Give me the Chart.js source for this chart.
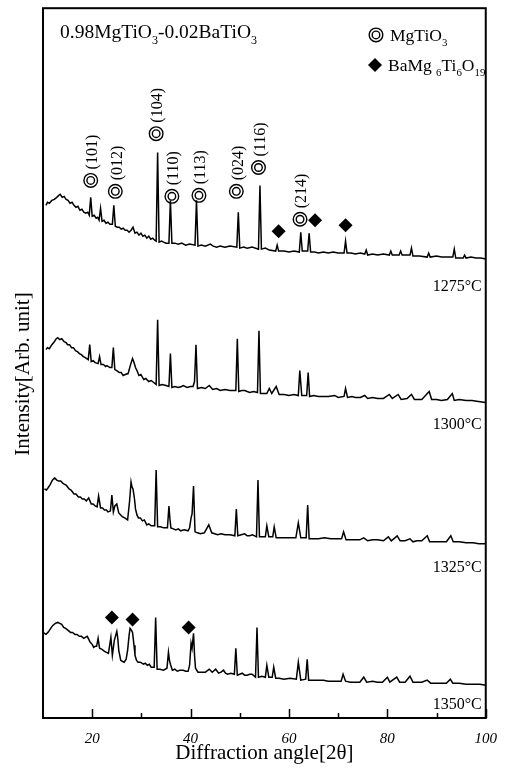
<!DOCTYPE html>
<html><head><meta charset="utf-8">
<script src="https://cdn.jsdelivr.net/npm/chart.js@4/dist/chart.umd.min.js"></script>
<style>html,body{margin:0;padding:0;background:#fff;} canvas{display:block;}</style>
</head><body>
<canvas id="c" width="509" height="770"></canvas>
<script>
// ---- DATA (2θ, intensity in arbitrary units) ----
const trace1275 = [[10.6,60],[10.9,63],[11.3,62],[11.8,65],[12.3,66],[12.8,68],[13.2,70],[13.5,71],[13.9,68],[14.3,69],[14.7,66],[15.1,65],[15.5,62],[15.9,63],[16.3,60],[16.7,58],[17.1,59],[17.5,55],[17.9,56],[18.3,53],[18.7,52],[19.1,53],[19.4,50],[19.7,68],[20.0,49],[20.4,50],[20.8,47],[21.1,48],[21.4,45],[21.7,57],[22.0,44],[22.4,45],[22.8,42],[23.2,43],[23.6,41],[24.1,41],[24.4,60],[24.7,39],[25.1,38],[25.5,38],[25.9,36],[26.3,37],[26.7,35],[27.1,35],[27.5,33],[27.9,35],[28.3,38],[28.7,32],[29.1,33],[29.5,30],[29.9,32],[30.3,29],[30.7,30],[31.1,27],[31.5,29],[31.9,26],[32.3,27],[32.7,25],[33.0,24],[33.3,113],[33.6,23],[34.1,24],[34.5,23],[35.0,22],[35.6,22],[35.9,65],[36.2,22],[36.8,22],[37.5,21],[38.2,22],[39.0,20],[39.8,21],[40.9,20],[41.2,65],[41.5,19],[42.2,20],[43.0,19],[44.0,21],[44.6,19],[45.3,18],[46.0,19],[47.0,18],[48.0,19],[49.4,18],[49.7,53],[50.0,17],[50.8,18],[51.5,17],[52.5,18],[53.8,16],[54.1,80],[54.4,16],[55.2,17],[56.0,15],[57.3,14],[57.6,20],[57.9,14],[59.0,14],[60.0,13],[61.0,14],[62.1,13],[62.4,33],[62.7,14],[63.8,14],[64.1,32],[64.4,13],[65.2,13],[66.0,12],[67.0,13],[68.0,12],[69.0,13],[70.0,12],[71.2,12],[71.5,24],[71.8,12],[72.6,12],[73.5,11],[74.5,12],[75.4,11],[75.7,15],[76.0,10],[77.0,11],[78.0,10],[79.2,11],[80.4,10],[80.7,14],[81.0,10],[82.4,10],[82.7,14],[83.0,10],[84.6,10],[84.9,17],[85.2,9],[86.5,9],[88.1,8],[88.4,12],[88.7,8],[90.0,9],[91.0,8],[92.2,8],[93.3,8],[93.6,16],[93.9,7],[95.4,7],[95.7,10],[96.0,7],[97.0,8],[98.0,7],[99.0,7],[100,6]];
const trace1300 = [[10.6,55],[10.9,57],[11.3,56],[11.8,60],[12.3,63],[12.7,66],[13.0,67],[13.4,65],[13.8,66],[14.3,63],[14.7,62],[15.0,60],[15.4,60],[15.8,57],[16.2,57],[16.6,54],[17.0,53],[17.4,51],[17.8,50],[18.2,48],[18.6,47],[19.2,45],[19.5,60],[19.8,43],[20.2,44],[20.6,42],[21.2,41],[21.5,48],[21.8,40],[22.3,40],[22.7,38],[23.0,39],[23.6,37],[24.0,37],[24.3,57],[24.6,35],[25.0,34],[25.5,32],[25.9,32],[26.3,29],[26.7,30],[27.3,31],[27.8,40],[28.2,46],[28.5,42],[28.8,37],[29.1,34],[29.5,29],[29.9,30],[30.5,25],[30.9,26],[31.5,23],[32.0,24],[32.5,22],[33.0,20],[33.3,85],[33.6,19],[34.2,20],[35.0,19],[35.6,18],[35.9,51],[36.2,17],[36.8,18],[37.5,17],[38.2,18],[38.5,19],[39.3,17],[40.0,18],[40.5,18],[40.8,23],[41.1,60],[41.4,16],[42.2,17],[43.0,16],[43.8,19],[44.5,15],[45.3,16],[46.0,14],[47.0,15],[48.0,14],[49.2,14],[49.5,66],[49.8,13],[50.4,14],[51.0,14],[52.0,12],[52.8,13],[53.6,12],[53.9,74],[54.2,11],[55.5,11],[56.0,16],[56.5,11],[57.4,18],[58.0,10],[59.0,10],[60.0,9],[61.0,10],[61.9,9],[62.2,34],[62.6,9],[63.6,9],[63.9,32],[64.2,8],[65.0,9],[66.0,8],[67.0,8],[68.0,8],[69.3,9],[70.0,7],[71.2,8],[71.5,16],[71.9,7],[72.8,8],[73.5,7],[74.5,7],[75.4,9],[76.0,6],[77.0,7],[78.0,6],[79.2,6],[80.4,10],[81.0,6],[82.2,10],[82.8,5],[84.0,6],[84.9,10],[85.5,5],[87.0,5],[88.5,13],[89.0,5],[90.0,5],[91.0,4],[92.2,5],[93.2,11],[93.6,4],[94.6,5],[96.0,4],[97.2,4],[98.5,3],[100,2]];
const trace1325 = [[10.3,60],[10.7,59],[11.0,61],[11.4,64],[11.8,68],[12.1,70],[12.4,71],[12.8,69],[13.2,68],[13.6,68],[14.0,66],[14.3,65],[14.7,64],[15.0,62],[15.3,60],[15.7,59],[16.0,57],[16.3,55],[16.7,55],[17.2,52],[17.6,52],[18.0,50],[18.4,50],[18.8,48],[19.3,51],[19.8,45],[20.2,45],[20.6,43],[21.0,42],[21.3,53],[21.7,41],[22.1,41],[22.5,39],[22.9,39],[23.2,37],[23.7,38],[24.0,54],[24.3,37],[24.6,43],[25.0,45],[25.4,36],[25.8,34],[26.2,32],[26.6,31],[27.2,29],[27.6,48],[27.9,67],[28.1,62],[28.3,60],[28.6,50],[28.8,40],[29.1,34],[29.4,31],[29.8,31],[30.2,28],[30.6,29],[31.1,24],[31.5,25],[32.0,23],[32.7,23],[33.0,79],[33.3,22],[33.9,22],[34.5,21],[35.3,21],[35.6,43],[35.8,30],[36.0,21],[36.5,20],[37.0,19],[37.5,20],[38.0,18],[38.7,19],[39.5,18],[39.8,21],[40.1,31],[40.3,35],[40.6,63],[40.9,17],[41.4,16],[42.0,15],[42.8,16],[43.7,24],[44.3,16],[44.9,15],[45.5,14],[46.2,15],[47.0,14],[48.0,14],[49.0,13],[49.3,40],[49.6,13],[50.3,14],[51.0,15],[51.5,13],[52.0,13],[52.6,14],[53.4,12],[53.7,69],[54.0,12],[54.6,12],[55.2,12],[55.5,23],[55.9,12],[56.7,12],[57.0,22],[57.4,11],[58.2,11],[59.0,11],[60.2,11],[61.4,11],[61.9,26],[62.4,11],[63.5,11],[63.8,44],[64.1,10],[65.0,10],[66.0,10],[67.2,11],[68.5,10],[69.6,10],[70.7,10],[71.1,17],[71.6,9],[72.5,9],[73.5,9],[74.4,9],[75.2,11],[76.0,8],[77.0,9],[78.0,9],[79.2,8],[80.2,12],[80.8,8],[82.0,13],[82.6,8],[83.6,8],[84.6,10],[85.2,7],[86.0,8],[87.0,8],[88.1,13],[88.6,7],[90.0,7],[91.0,7],[92.0,7],[92.9,13],[93.4,7],[94.6,7],[96.0,6],[97.4,6],[98.6,5],[100,5]];
const trace1350 = [[10.0,58],[10.3,57],[10.6,56],[11.0,58],[11.3,60],[11.7,63],[12.0,65],[12.5,67],[13.0,68],[13.4,67],[13.8,66],[14.2,63],[14.6,62],[15.1,60],[15.6,58],[16.0,58],[16.5,56],[16.9,56],[17.4,54],[17.8,54],[18.3,52],[18.6,53],[19.0,54],[19.3,51],[19.6,48],[20.0,46],[20.3,43],[20.6,44],[20.9,44],[21.2,52],[21.5,42],[22.0,41],[22.5,39],[22.9,38],[23.3,37],[23.8,53],[24.1,35],[24.5,50],[25.0,59],[25.2,52],[25.4,40],[25.8,30],[26.1,29],[26.5,28],[26.9,31],[27.2,40],[27.5,55],[27.7,62],[28.0,60],[28.2,58],[28.5,45],[28.7,35],[29.0,30],[29.3,28],[29.8,28],[30.4,26],[30.8,27],[31.2,25],[31.6,26],[32.0,23],[32.6,23],[32.9,73],[33.2,21],[33.8,21],[34.5,20],[35.2,22],[35.5,38],[35.7,30],[35.9,26],[36.3,20],[36.8,21],[37.3,19],[37.8,20],[38.5,20],[39.0,19],[39.5,19],[39.8,25],[40.1,47],[40.3,42],[40.6,57],[40.8,35],[41.0,22],[41.5,18],[42.2,18],[43.0,18],[43.8,21],[44.4,18],[45.1,21],[45.7,17],[46.2,18],[46.7,20],[47.1,17],[47.5,16],[48.2,17],[48.9,16],[49.2,42],[49.5,15],[50.0,16],[50.5,17],[51.0,15],[51.5,15],[52.0,16],[52.5,16],[53.2,13],[53.5,63],[53.8,13],[54.5,14],[55.2,13],[55.5,25],[55.9,13],[56.6,13],[56.9,23],[57.3,12],[58.0,12],[59.0,11],[60.2,12],[61.5,11],[61.9,28],[62.4,10],[63.4,11],[63.7,31],[64.0,10],[65.0,10],[66.0,10],[67.0,10],[68.0,9],[69.3,9],[70.6,9],[71.0,16],[71.5,9],[72.5,8],[73.5,8],[74.4,8],[75.2,13],[75.8,8],[77.0,9],[78.0,8],[79.0,8],[80.0,13],[80.5,8],[81.9,13],[82.5,8],[83.6,8],[84.6,14],[85.2,8],[86.0,8],[87.0,8],[88.1,10],[88.8,7],[90.0,7],[91.0,7],[92.0,7],[92.8,11],[93.3,7],[94.6,7],[96.0,6],[97.5,6],[98.8,6],[100,5]];

const traceNames = ['1275°C', '1300°C', '1325°C', '1350°C'];
const traceOffsets = [455, 315, 170, 28];
const tempLabelLevels = [433, 295, 151, 13];

const mgTiO3Angles = [19.7, 24.7, 33.0, 36.2, 41.7, 49.3, 53.8, 62.25];
const mgTiO3Levels = [540, 529, 587, 524, 525, 529, 553, 501];
const mgTiO3Labels = ['(101)', '(012)', '(104)', '(110)', '(113)', '(024)', '(116)', '(214)'];

const baMgAngles = [57.9, 65.3, 71.5, 24.0, 28.2, 39.6];
const baMgLevels = [489, 500, 495, 101, 99, 91];

const xTickValues = [20, 40, 60, 80, 100];
const xMinorTickValues = [30, 50, 70, 90];

// ---- CHART ----
const SERIF = '"Liberation Serif", "Times New Roman", serif';
const traces = [trace1275, trace1300, trace1325, trace1350];

const traceSets = traces.map((t, i) => ({
  label: traceNames[i],
  data: t.map(([x, y]) => ({ x, y: y + traceOffsets[i] })),
  showLine: true, borderColor: '#000', borderWidth: 1.5, pointRadius: 0, tension: 0
}));
const mgPts = mgTiO3Angles.map((a, i) => ({ x: a, y: mgTiO3Levels[i] }));
const baPts = baMgAngles.map((a, i) => ({ x: a, y: baMgLevels[i] }));

function richText(ctx, parts, x, y, size) {
  let cx = x;
  parts.forEach(([t, sub]) => {
    const s = sub ? size * 0.62 : size;
    ctx.font = s + 'px ' + SERIF;
    ctx.fillText(t, cx, sub ? y + size * 0.28 : y);
    cx += ctx.measureText(t).width;
  });
}

const decor = {
  id: 'decor',
  afterDraw(chart) {
    const { ctx, chartArea: a, scales: { x, y } } = chart;
    ctx.save();
    ctx.strokeStyle = '#000'; ctx.fillStyle = '#000';
    // frame
    ctx.lineWidth = 2;
    ctx.strokeRect(a.left, a.top, a.right - a.left, a.bottom - a.top);
    // inward ticks
    ctx.lineWidth = 1.5;
    xTickValues.concat(xMinorTickValues).forEach(v => {
      const px = Math.round(x.getPixelForValue(v)) + 0.5;
      const len = xMinorTickValues.includes(v) ? 5 : 9;
      ctx.beginPath(); ctx.moveTo(px, a.bottom); ctx.lineTo(px, a.bottom - len); ctx.stroke();
    });
    // hkl labels
    ctx.font = '16px ' + SERIF;
    ctx.textAlign = 'left'; ctx.textBaseline = 'middle';
    mgTiO3Labels.forEach((lab, i) => {
      const px = x.getPixelForValue(mgTiO3Angles[i]) + 2;
      const py = y.getPixelForValue(mgTiO3Levels[i]) - 11;
      ctx.save(); ctx.translate(px, py); ctx.rotate(-Math.PI / 2);
      ctx.fillText(lab, 0, 0); ctx.restore();
    });
    // temperature labels
    ctx.font = '16px ' + SERIF;
    ctx.textAlign = 'right'; ctx.textBaseline = 'middle';
    traceNames.forEach((n, i) => ctx.fillText(n, a.right - 4, y.getPixelForValue(tempLabelLevels[i])));
    // composition title
    ctx.textAlign = 'left'; ctx.textBaseline = 'alphabetic';
    richText(ctx, [['0.98MgTiO'], ['3', 1], ['-0.02BaTiO'], ['3', 1]], a.left + 17, a.top + 30, 19.5);
    // legend
    const lx = a.left + 333;
    ctx.lineWidth = 1.4;
    ctx.beginPath(); ctx.arc(lx, a.top + 26.7, 6.8, 0, Math.PI * 2); ctx.stroke();
    ctx.beginPath(); ctx.arc(lx, a.top + 26.7, 3.8, 0, Math.PI * 2); ctx.stroke();
    richText(ctx, [['MgTiO'], ['3', 1]], lx + 14, a.top + 32.5, 17.5);
    ctx.beginPath();
    const dy = a.top + 56.7;
    ctx.moveTo(lx - 1, dy - 7); ctx.lineTo(lx + 6, dy); ctx.lineTo(lx - 1, dy + 7); ctx.lineTo(lx - 8, dy); ctx.closePath(); ctx.fill();
    richText(ctx, [['BaMg'], ['\u2009\u20096', 1], ['Ti'], ['6', 1], ['O'], ['19', 1]], lx + 12, a.top + 62.5, 17.5);
    // y title
    ctx.font = '21px ' + SERIF;
    ctx.textAlign = 'center'; ctx.textBaseline = 'middle';
    ctx.save(); ctx.translate(23, 374); ctx.rotate(-Math.PI / 2);
    ctx.fillText('Intensity[Arb. unit]', 0, 0); ctx.restore();
    ctx.restore();
  }
};

new Chart(document.getElementById('c'), {
  type: 'scatter',
  data: {
    datasets: traceSets.concat([
      { label: 'MgTiO3', data: mgPts, showLine: false, pointStyle: 'circle', pointRadius: 6.8, borderWidth: 1.4, borderColor: '#000', backgroundColor: 'rgba(0,0,0,0)' },
      { label: 'MgTiO3 inner', data: mgPts, showLine: false, pointStyle: 'circle', pointRadius: 3.8, borderWidth: 1.4, borderColor: '#000', backgroundColor: 'rgba(0,0,0,0)' },
      { label: 'BaMg6Ti6O19', data: baPts, showLine: false, pointStyle: 'rectRot', pointRadius: 7, borderWidth: 0, borderColor: '#000', backgroundColor: '#000' }
    ])
  },
  options: {
    responsive: false, animation: false, devicePixelRatio: 1, events: [],
    layout: { padding: { top: 5, right: 18, left: 0, bottom: 0 } },
    plugins: { legend: { display: false }, tooltip: { enabled: false } },
    scales: {
      x: {
        type: 'linear', min: 10, max: 100,
        afterBuildTicks: s => { s.ticks = xTickValues.map(v => ({ value: v })); },
        afterFit: s => { s.height = 52; },
        grid: { display: false, drawTicks: false }, border: { display: false },
        ticks: { padding: 12, color: '#000', maxRotation: 0, autoSkip: false, font: { family: SERIF, style: 'italic', size: 15 } },
        title: { display: true, text: 'Diffraction angle[2θ]', color: '#000', font: { family: SERIF, size: 21 }, padding: { top: 0, bottom: 4 } }
      },
      y: {
        type: 'linear', min: 0, max: 713,
        afterFit: s => { s.width = 43; },
        grid: { display: false, drawTicks: false }, border: { display: false },
        ticks: { display: false }
      }
    }
  },
  plugins: [decor]
});
</script>
</body></html>
